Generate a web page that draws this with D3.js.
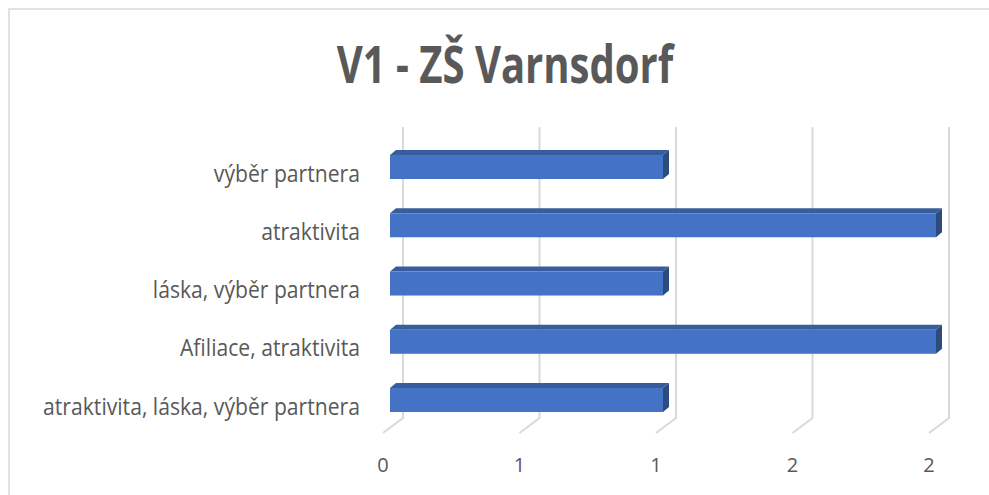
<!DOCTYPE html>
<html>
<head>
<meta charset="utf-8">
<script src="https://cdn.jsdelivr.net/npm/d3@7"></script>
<style>
  body { margin: 0; background: #fff; }
  text { font-family: "Open Sans", "DejaVu Sans", sans-serif; }
</style>
</head>
<body>
<div id="chart"></div>
<script>
// data, top to bottom as shown
var categories = ["výběr partnera", "atraktivita", "láska, výběr partnera", "Afiliace, atraktivita", "atraktivita, láska, výběr partnera"];
var values = [1, 2, 1, 2, 1];
var tickValues = [0, 0.5, 1, 1.5, 2];
var tickLabels = ["0", "1", "1", "2", "2"];
var title = "V1 - ZŠ Varnsdorf";

var width = 989, height = 495;

var svg = d3.select("#chart").append("svg")
  .attr("width", width)
  .attr("height", height);

// chart area border (only top and left visible)
svg.append("path")
  .attr("d", "M9,495 L9,9 L989,9")
  .attr("fill", "none")
  .attr("stroke", "#d9d9d9")
  .attr("stroke-width", 1.5);

// the source picture is squeezed horizontally, so the text is too
svg.append("text")
  .attr("transform", "translate(505,83) scale(0.77,1)")
  .attr("text-anchor", "middle")
  .attr("font-size", 52)
  .attr("font-weight", "bold")
  .attr("fill", "#595959")
  .text(title);

// x on the front plane of the bars
var x = d3.scaleLinear().domain([0, 2]).range([390, 936]);

var y = d3.scaleBand()
  .domain(categories)
  .range([137.9, 429.15])
  .paddingInner(0.588)
  .paddingOuter(0.294);

// 3d offsets
var wallDx = 13, floorDx = -7;        // back wall / front floor relative to bar front
var wallTop = 127, wallBottom = 418, floorY = 433;
var depthX = 6, depthY = 5;           // bar depth

// gridlines: wall + floor
var grid = svg.append("g");
grid.selectAll(".grid")
  .data(tickValues)
  .enter().append("path")
  .attr("class", "grid")
  .attr("fill", "none")
  .attr("stroke", "#d9d9d9")
  .attr("stroke-width", 2)
  .attr("d", function(d) {
    var xb = x(d) + wallDx, xf = x(d) + floorDx;
    return "M" + xb + "," + wallTop + " L" + xb + "," + wallBottom + " L" + xf + "," + floorY;
  });

// tick labels
svg.append("g").selectAll(".tick")
  .data(tickValues)
  .enter().append("text")
  .attr("class", "tick")
  .attr("x", function(d) { return x(d) + floorDx; })
  .attr("y", 472)
  .attr("text-anchor", "middle")
  .attr("font-size", 20)
  .attr("fill", "#595959")
  .text(function(d, i) { return tickLabels[i]; });

// bars
var bar = svg.append("g").selectAll(".bar")
  .data(categories)
  .enter().append("g")
  .attr("class", "bar");

bar.append("path")  // top face
  .attr("fill", "#385d9c")
  .attr("d", function(d, i) {
    var x0 = x(0), x1 = x(values[i]), t = y(d);
    return "M" + x0 + "," + t + " L" + (x0 + depthX) + "," + (t - depthY) +
      " L" + (x1 + depthX) + "," + (t - depthY) + " L" + x1 + "," + t + "Z";
  });

bar.append("path")  // side face
  .attr("fill", "#2e4b80")
  .attr("d", function(d, i) {
    var x1 = x(values[i]), t = y(d), b = t + y.bandwidth();
    return "M" + x1 + "," + t + " L" + (x1 + depthX) + "," + (t - depthY) +
      " L" + (x1 + depthX) + "," + (b - depthY) + " L" + x1 + "," + b + "Z";
  });

bar.append("rect")  // front face
  .attr("x", x(0))
  .attr("y", function(d) { return y(d); })
  .attr("width", function(d, i) { return x(values[i]) - x(0); })
  .attr("height", y.bandwidth())
  .attr("fill", "#4472c4");

// category labels
svg.append("g").selectAll(".label")
  .data(categories)
  .enter().append("text")
  .attr("class", "label")
  .attr("transform", function(d) {
    return "translate(360," + (y(d) + 26.5) + ") scale(0.92,1)";
  })
  .attr("text-anchor", "end")
  .attr("font-size", 23)
  .attr("fill", "#595959")
  .text(function(d) { return d; });
</script>
</body>
</html>
